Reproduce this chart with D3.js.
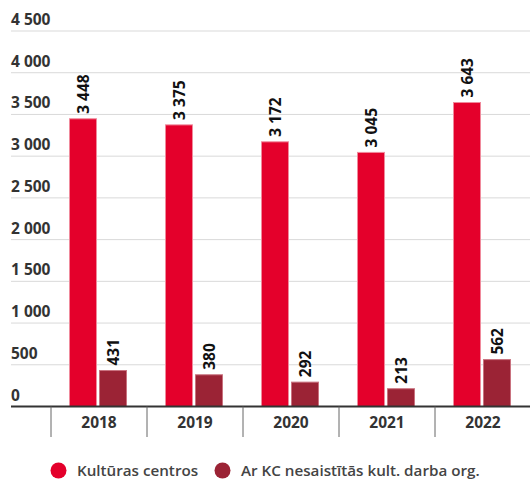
<!DOCTYPE html>
<html><head><meta charset="utf-8">
<script src="https://cdn.jsdelivr.net/npm/d3@7"></script>
<style>body{margin:0;background:#fff}svg{display:block}text{font-family:"Open Sans",sans-serif}</style>
</head><body><svg id="c" width="530" height="481"></svg>
<script>
const years = ["2018","2019","2020","2021","2022"];
const seriesNames = ["Kultūras centros","Ar KC nesaistītās kult. darba org."];
const kulturasCentros = [3448,3375,3172,3045,3643];
const arKC = [431,380,292,213,562];
const yTicks = [0,500,1000,1500,2000,2500,3000,3500,4000,4500];
const colors = ["#e4002b","#9b2335"];

const svg = d3.select("#c");
const fmt = v => d3.format(",")(v).replace(/,/g," ");
const y = d3.scaleLinear().domain([0,4500]).range([406.5,31]);
const x = d3.scaleBand().domain(years).range([51,531]).padding(0);

// grid
svg.append("g").selectAll("line").data(yTicks.filter(d=>d>0)).join("line")
  .attr("x1",11).attr("x2",530).attr("y1",d=>y(d)).attr("y2",d=>y(d))
  .attr("stroke","#d9d9d9").attr("stroke-width",1);
svg.append("g").selectAll("text").data(yTicks).join("text")
  .attr("x",11).attr("y",d=>y(d)-6).text(fmt)
  .attr("font-size",15.5).attr("font-weight",700).attr("fill","#333");

const series = [kulturasCentros, arKC];
const bw = 28, offs = [-30, 0];
series.forEach((vals,i)=>{
  const g = svg.append("g");
  g.selectAll("rect").data(vals).join("rect")
    .attr("x",(d,j)=>x(years[j])+x.bandwidth()/2+offs[i]+0.5)
    .attr("y",d=>y(d)).attr("width",bw-1).attr("height",d=>y(0)-y(d))
    .attr("fill",colors[i]).attr("stroke", i==0?"#f08a9c":"#c9727f").attr("stroke-width",1);
  g.selectAll("text").data(vals).join("text")
    .attr("transform",(d,j)=>`translate(${x(years[j])+x.bandwidth()/2+offs[i]+bw/2+5.5},${y(d)-5}) rotate(-90)`)
    .text(fmt).attr("font-size",15.5).attr("font-weight",700).attr("fill","#111");
});

// baseline & x axis
svg.append("line").attr("x1",11).attr("x2",530).attr("y1",y(0)).attr("y2",y(0))
  .attr("stroke","#333").attr("stroke-width",2);
svg.append("g").selectAll("line").data(years).join("line")
  .attr("x1",d=>x(d)).attr("x2",d=>x(d)).attr("y1",y(0)).attr("y2",437)
  .attr("stroke","#666").attr("stroke-width",1);
svg.append("g").selectAll("text").data(years).join("text")
  .attr("x",d=>x(d)+x.bandwidth()/2).attr("y",428).attr("text-anchor","middle")
  .text(d=>d).attr("font-size",15.5).attr("font-weight",700).attr("fill","#333");

// legend
const lx = [58.5,222.5];
seriesNames.forEach((n,i)=>{
  svg.append("circle").attr("cx",lx[i]).attr("cy",470.5).attr("r",8).attr("fill",colors[i]);
  svg.append("text").attr("x",lx[i]+18.5).attr("y",475.5).text(n)
    .attr("font-size",15.2).attr("font-weight",600).attr("fill","#444");
});
</script></body></html>
